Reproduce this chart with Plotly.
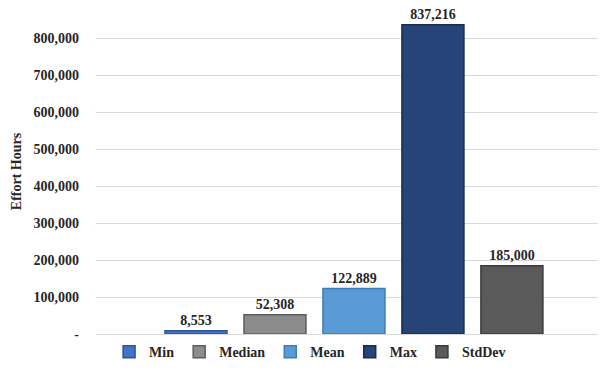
import plotly.graph_objects as go

categories = ["Min", "Median", "Mean", "Max", "StdDev"]
values = [8553, 52308, 122889, 837216, 185000]
colors = ["#4472C4", "#8C8C8C", "#5B9BD5", "#264478", "#5A5A5A"]
line_colors = ["#2F5597", "#5E5E5E", "#3E7CB8", "#182C50", "#3A3A3A"]
tick_vals = [0, 100000, 200000, 300000, 400000, 500000, 600000, 700000, 800000]
tick_text = ["-", "100,000", "200,000", "300,000", "400,000", "500,000", "600,000", "700,000", "800,000"]

FONT = "Liberation Serif"
TXT = "#262626"

fig = go.Figure()
for c, v, col, lc in zip(categories, values, colors, line_colors):
    fig.add_trace(go.Bar(
        x=[c], y=[v], name=c,
        marker=dict(color=col, line=dict(color=lc, width=1.5)),
        width=0.785,
        text=[f"{v:,}"], textposition="outside",
        textfont=dict(family=FONT, size=14, color=TXT, weight="bold"),
        cliponaxis=False,
    ))

fig.update_layout(
    width=608, height=370,
    margin=dict(l=96, r=10, t=9, b=36, autoexpand=False),
    plot_bgcolor="white", paper_bgcolor="white",
    barmode="relative",
    showlegend=True,
    legend=dict(orientation="h", x=0.51, xref="container", xanchor="center",
                y=0.048, yref="container", yanchor="middle",
                font=dict(family=FONT, size=14, color=TXT, weight="bold"),
                itemwidth=30, tracegroupgap=0),
    font=dict(family=FONT, color=TXT),
)
fig.update_xaxes(showticklabels=False, showgrid=False, range=[-1.266, 5.09],
                 showline=False, zeroline=False)
fig.update_yaxes(range=[0, 880000], tickvals=tick_vals, ticktext=tick_text,
                 showgrid=True, gridcolor="#D9D9D9", gridwidth=1,
                 zeroline=True, zerolinecolor="#D9D9D9", zerolinewidth=1,
                 tickfont=dict(family=FONT, size=14, color=TXT, weight="bold"),
                 ticks="", ticklabelstandoff=16, automargin=False,
                 title=dict(text="Effort Hours", font=dict(family=FONT, size=14, color=TXT, weight="bold"), standoff=8))
fig.write_html("out.html")
